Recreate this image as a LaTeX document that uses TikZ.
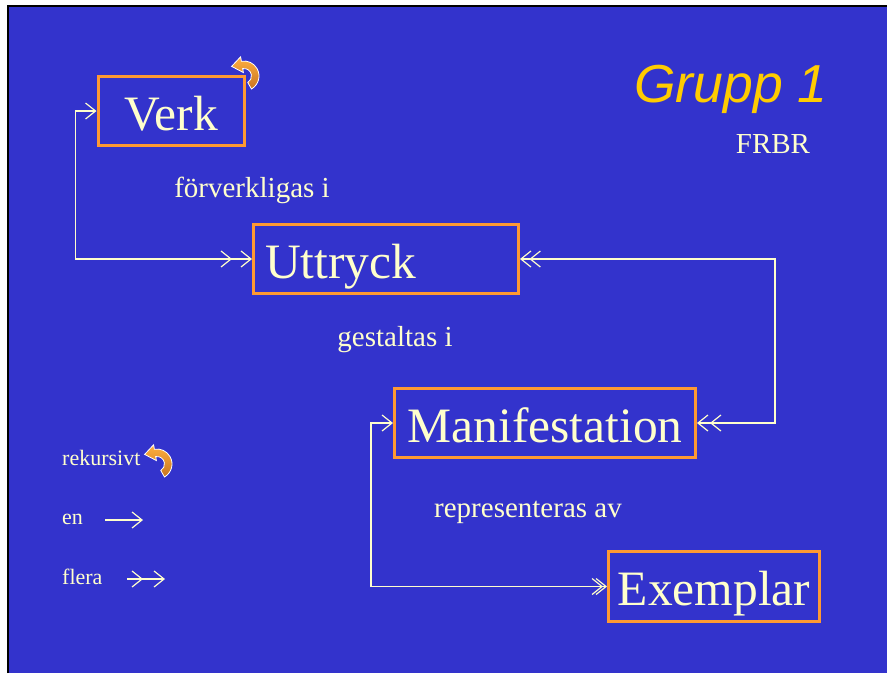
\documentclass[tikz,border=0pt]{standalone}
\usepackage{fontspec}
\setmainfont{Liberation Serif}
\newfontfamily\gruppfont{Liberation Sans}
\usetikzlibrary{arrows.meta,decorations.markings}
\definecolor{bakgrund}{HTML}{3333CC}
\definecolor{ram}{HTML}{FF9933}
\definecolor{kram}{HTML}{FFFFCC}
\definecolor{gul}{HTML}{FFCC00}
\definecolor{ramljus}{HTML}{FFB040}
\definecolor{ramdjup}{HTML}{C87420}

\begin{document}
\begin{tikzpicture}[x=1pt,y=-1pt,
    >={Straight Barb[length=10pt,width=16pt]},
    entitet/.style={draw=ram,line width=3pt,text=kram,inner sep=0pt,
      font=\fontsize{49.5}{56}\selectfont,text height=38pt,text depth=0pt},
    etikett/.style={text=kram,anchor=base,font=\fontsize{29}{33}\selectfont},
    liten/.style={text=kram,anchor=base west,inner sep=0pt,font=\fontsize{22}{26}\selectfont},
    pil/.style={draw=kram,line width=1.2pt},
    flera/.style={postaction={decorate,decoration={markings,mark=at position #1 with {\arrow{>}}}}},
    flerabak/.style={postaction={decorate,decoration={markings,mark=at position #1 with {\arrow{<}}}}},
    rekpil/.pic={
      \path[draw=white,line width=0.8pt,top color=ramljus,bottom color=ramdjup]
        (60:15) arc[start angle=60,end angle=-100,radius=15] -- (-100:19.5)
        -- (-12.4,-9.6) -- (-100:3.5) -- (-100:7.5)
        arc[start angle=-100,end angle=60,radius=7.5] -- cycle;
    }
  ]
  \useasboundingbox (0,0) rectangle (887,673);
  \fill[white] (0,0) rectangle (887,673);
  \fill[bakgrund] (8,6) rectangle (887,673);
  \draw[black,line width=2.5pt] (8,673) -- (8,6) -- (887,6);

  \node[entitet,minimum width=146pt,minimum height=69pt] (verk) at (171,111) {Verk};
  \node[entitet,minimum width=265pt,minimum height=69pt,text width=242pt,inner xsep=11.5pt,align=left] (uttryck) at (386,259) {Uttryck};
  \node[entitet,minimum width=301pt,minimum height=69pt] (manifestation) at (545,423) {Manifestation};
  \node[entitet,minimum width=211pt,minimum height=70pt] (exemplar) at (714,586.5) {Exemplar};
  \pic at (244,76) {rekpil};

  \draw[pil,<->,flera=-20pt] (verk.west) -- ++(-21,0) |- (uttryck.west);
  \draw[pil,<->,flerabak=21pt,flera=-13pt] (uttryck.east) -- ++(255,0) |- (manifestation.east);
  \draw[pil,<->,flera=-4pt] (manifestation.west) -- ++(-22,0) |- (exemplar.west);

  \node[etikett] (forverkligas) at (252,197) {förverkligas i};
  \node[etikett] (gestaltas) at (395,346) {gestaltas i};
  \node[etikett] (representeras) at (528,517) {representeras av};
  \node[etikett] (frbr) at (773,153) {FRBR};
  \node[text=gul,anchor=base,font=\gruppfont\itshape\fontsize{53.5}{60}\selectfont] (grupp) at (731,102) {Grupp 1};

  \node[liten] (rekursivt) at (62,465) {rekursivt};
  \pic at (157,464) {rekpil};
  \node[liten] (entext) at (62,524) {en};
  \coordinate (en-start) at (105,520);
  \coordinate (en-slut) at (143,520);
  \draw[pil,->] (en-start) -- (en-slut);
  \node[liten] (fleratext) at (62,584) {flera};
  \coordinate (flera-start) at (127,579);
  \coordinate (flera-slut) at (165,579);
  \draw[pil,->,flera=-22pt] (flera-start) -- (flera-slut);
\end{tikzpicture}
\end{document}
